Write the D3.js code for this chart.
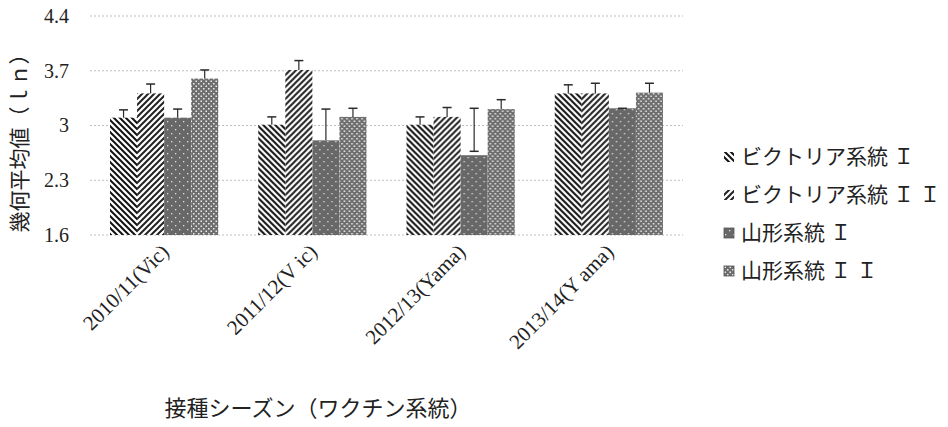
<!DOCTYPE html>
<html>
<head>
<meta charset="utf-8">
<script src="https://cdn.jsdelivr.net/npm/d3@7"></script>
<style>
  body { margin: 0; background: #fff; }
  text { fill: #222; font-family: "Liberation Serif", "Noto Sans CJK JP", serif; }
</style>
</head>
<body>
<div class="chart"></div>
<script>
var svgWidth = 948;
var svgHeight = 427;

// data
var seasons = ["2010/11(Vic)", "2011/12(V ic)", "2012/13(Yama)", "2013/14(Y ama)"];
var seriesNames = ["ビクトリア系統 Ｉ", "ビクトリア系統 Ｉ Ｉ", "山形系統 Ｉ", "山形系統 Ｉ Ｉ"];
var vic1 = [3.10, 3.01, 3.01, 3.41];
var vic2 = [3.41, 3.71, 3.11, 3.41];
var yama1 = [3.10, 2.81, 2.62, 3.22];
var yama2 = [3.60, 3.11, 3.21, 3.42];
// error bar upper ends
var vic1Hi = [3.20, 3.11, 3.11, 3.52];
var vic2Hi = [3.53, 3.83, 3.23, 3.54];
var yama1Hi = [3.21, 3.21, 3.22, 3.22];
var yama2Hi = [3.71, 3.22, 3.33, 3.54];
// error bar lower ends (only one is visible above its bar)
var yama1Lo = [null, null, 2.67, null];
var yTicks = [1.6, 2.3, 3, 3.7, 4.4];

var values = [vic1, vic2, yama1, yama2];
var highs = [vic1Hi, vic2Hi, yama1Hi, yama2Hi];
var lows = [null, null, yama1Lo, null];

var margin = { top: 16, left: 90, right: 265, bottom: 192 };
var plotRight = svgWidth - margin.right;
var plotBottom = svgHeight - margin.bottom;

var svg = d3.select(".chart").append("svg")
  .attr("width", svgWidth)
  .attr("height", svgHeight);

// fill patterns
var defs = svg.append("defs");

var p1 = defs.append("pattern").attr("id", "pat0")
  .attr("patternUnits", "userSpaceOnUse").attr("width", 6).attr("height", 6);
p1.append("rect").attr("width", 6).attr("height", 6).attr("fill", "#fff");
p1.append("path").attr("d", "M0,0 l6,6 M-1.5,4.5 l3,3 M4.5,-1.5 l3,3")
  .attr("stroke", "#111").attr("stroke-width", 2);

var p2 = defs.append("pattern").attr("id", "pat1")
  .attr("patternUnits", "userSpaceOnUse").attr("width", 6).attr("height", 6);
p2.append("rect").attr("width", 6).attr("height", 6).attr("fill", "#fff");
p2.append("path").attr("d", "M0,6 l6,-6 M-1.5,1.5 l3,-3 M4.5,7.5 l3,-3")
  .attr("stroke", "#222").attr("stroke-width", 2);

var p3 = defs.append("pattern").attr("id", "pat2")
  .attr("patternUnits", "userSpaceOnUse").attr("width", 8).attr("height", 8);
p3.append("rect").attr("width", 8).attr("height", 8).attr("fill", "#686868");
p3.append("rect").attr("x", 1).attr("y", 1).attr("width", 1.3).attr("height", 1.3).attr("fill", "#e0e0e0");
p3.append("rect").attr("x", 5).attr("y", 5).attr("width", 1.3).attr("height", 1.3).attr("fill", "#e0e0e0");

var p4 = defs.append("pattern").attr("id", "pat3")
  .attr("patternUnits", "userSpaceOnUse").attr("width", 5).attr("height", 5);
p4.append("rect").attr("width", 5).attr("height", 5).attr("fill", "#6e6e6e");
p4.append("rect").attr("x", 0.5).attr("y", 0.5).attr("width", 1.5).attr("height", 1.5).attr("fill", "#eee");
p4.append("rect").attr("x", 3).attr("y", 3).attr("width", 1.5).attr("height", 1.5).attr("fill", "#eee");

// scales
var x0 = d3.scaleBand()
  .domain(seasons)
  .range([margin.left, plotRight])
  .paddingInner(0.27)
  .paddingOuter(0.135);

var x1 = d3.scaleBand()
  .domain(d3.range(seriesNames.length))
  .range([0, x0.bandwidth()]);

var y = d3.scaleLinear()
  .domain([1.6, 4.4])
  .range([plotBottom, margin.top]);

// gridlines
svg.append("g")
  .selectAll("line")
  .data(yTicks)
  .enter()
  .append("line")
  .attr("x1", margin.left)
  .attr("x2", plotRight)
  .attr("y1", d => y(d))
  .attr("y2", d => y(d))
  .attr("stroke", "#bdbdbd")
  .attr("stroke-width", 1)
  .attr("stroke-dasharray", "2,2");

// y axis labels
var yAxis = svg.append("g")
  .attr("transform", `translate(${margin.left - 18}, 0)`)
  .call(d3.axisLeft(y).tickValues(yTicks).tickSize(0).tickFormat(d3.format("")));
yAxis.select(".domain").remove();
yAxis.selectAll("text")
  .attr("font-size", 20)
  .attr("fill", "#222");

// bars
var groups = svg.append("g")
  .selectAll("g")
  .data(seasons)
  .enter()
  .append("g")
  .attr("transform", d => `translate(${x0(d)}, 0)`);

groups.selectAll("rect")
  .data((d, i) => values.map((s, k) => ({ k: k, v: s[i] })))
  .enter()
  .append("rect")
  .attr("x", d => x1(d.k))
  .attr("y", d => y(d.v))
  .attr("width", x1.bandwidth())
  .attr("height", d => y(1.6) - y(d.v))
  .attr("fill", d => `url(#pat${d.k})`);

// error bars
var errs = groups.selectAll("g.err")
  .data((d, i) => values.map((s, k) => ({
    k: k, v: s[i], hi: highs[k][i], lo: lows[k] ? lows[k][i] : null
  })))
  .enter()
  .append("g")
  .attr("class", "err")
  .attr("transform", d => `translate(${x1(d.k) + x1.bandwidth() / 2}, 0)`);

errs.append("line")
  .attr("y1", d => y(d.lo !== null ? d.lo : d.v))
  .attr("y2", d => y(d.hi))
  .attr("stroke", "#2a2a2a")
  .attr("stroke-width", 1.2);

errs.append("line")
  .attr("x1", -4.5).attr("x2", 4.5)
  .attr("y1", d => y(d.hi)).attr("y2", d => y(d.hi))
  .attr("stroke", "#2a2a2a")
  .attr("stroke-width", 1.5);

errs.filter(d => d.lo !== null).append("line")
  .attr("x1", -4.5).attr("x2", 4.5)
  .attr("y1", d => y(d.lo)).attr("y2", d => y(d.lo))
  .attr("stroke", "#2a2a2a")
  .attr("stroke-width", 1.5);

// x tick labels, rotated
svg.append("g")
  .selectAll("text")
  .data(seasons)
  .enter()
  .append("text")
  .attr("transform", d => `translate(${x0(d) + x0.bandwidth() / 2 + 6}, ${plotBottom + 18}) rotate(-45)`)
  .attr("text-anchor", "end")
  .attr("font-size", 21)
  .text(d => d);

// axis titles
svg.append("text")
  .attr("transform", `translate(27, 138) rotate(-90)`)
  .attr("text-anchor", "middle")
  .attr("font-size", 21)
  .attr("fill", "#333")
  .text("幾何平均値（ｌｎ）");

svg.append("text")
  .attr("x", 318)
  .attr("y", 416)
  .attr("text-anchor", "middle")
  .attr("font-size", 22)
  .attr("fill", "#333")
  .text("接種シーズン（ワクチン系統）");

// legend
var legend = svg.append("g")
  .selectAll("g")
  .data(seriesNames)
  .enter()
  .append("g")
  .attr("transform", (d, i) => `translate(724, ${157 + i * 38})`);

legend.append("rect")
  .attr("x", 0)
  .attr("y", -5)
  .attr("width", 10)
  .attr("height", 10)
  .attr("fill", (d, i) => `url(#pat${i})`)
  .attr("stroke", (d, i) => i < 2 ? "none" : "#555")
  .attr("stroke-width", 0.8);

legend.append("text")
  .attr("x", 17)
  .attr("y", 0)
  .attr("dy", "0.35em")
  .attr("font-size", 21)
  .attr("fill", "#333")
  .text(d => d);
</script>
</body>
</html>
